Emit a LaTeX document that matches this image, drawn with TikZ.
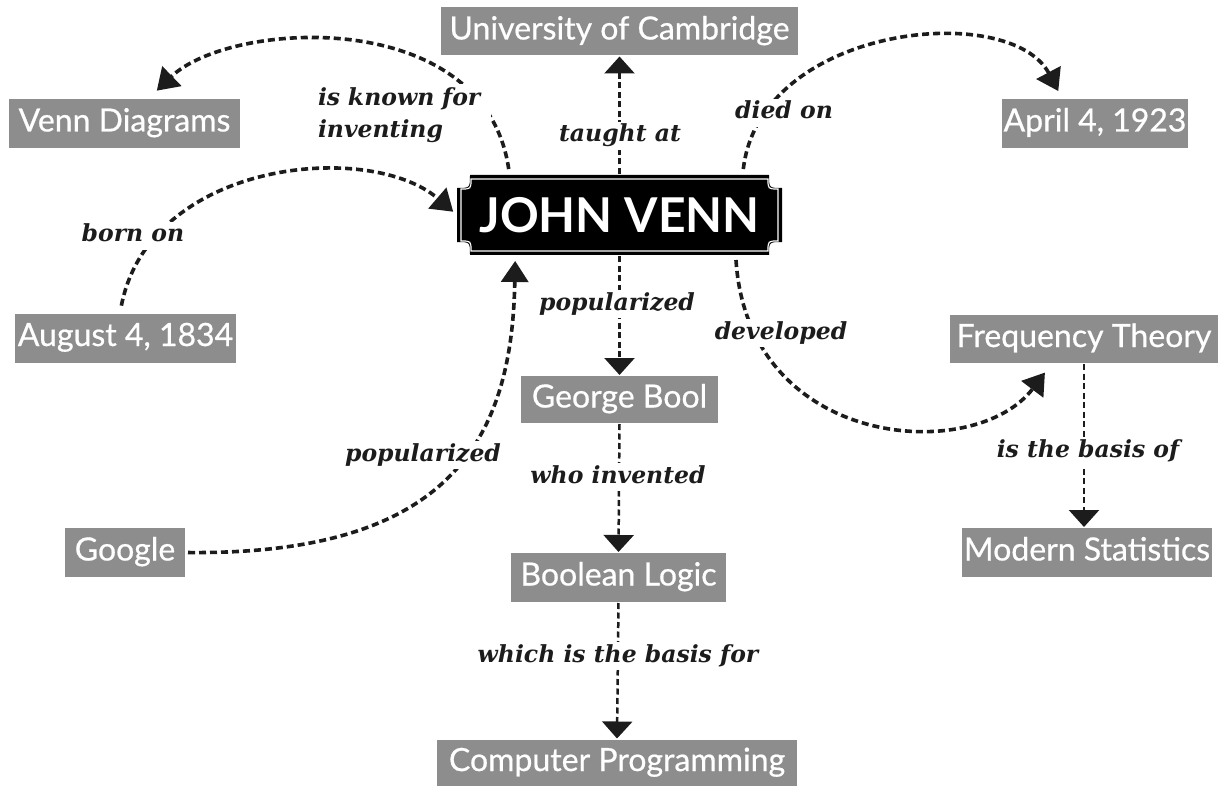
\documentclass[tikz,border=0pt]{standalone}
\usepackage{fontspec}
\usetikzlibrary{arrows.meta,calc,backgrounds}
\newfontface\boxfont{Lato}[FakeBold=0.6]
\newfontface\jvfont{Lato Bold}
\newfontfamily\labfont{DejaVu Serif}
\definecolor{boxgray}{RGB}{141,141,141}
\definecolor{ink}{RGB}{28,28,28}
\newcommand{\jvshape}[2]{%
 ($(jv.north west)+(#1+#2,#1)$) -- ($(jv.north east)+(-#1-#2,#1)$)
 .. controls ($(jv.north east)+(-#1-#2,#1+#2)$) .. ($(jv.north east)+(-#1,#1+#2)$)
 -- ($(jv.south east)+(-#1,-#1-#2)$)
 .. controls ($(jv.south east)+(-#1-#2,-#1-#2)$) .. ($(jv.south east)+(-#1-#2,-#1)$)
 -- ($(jv.south west)+(#1+#2,-#1)$)
 .. controls ($(jv.south west)+(#1+#2,-#1-#2)$) .. ($(jv.south west)+(#1,-#1-#2)$)
 -- ($(jv.north west)+(#1,#1+#2)$)
 .. controls ($(jv.north west)+(#1+#2,#1+#2)$) .. ($(jv.north west)+(#1+#2,#1)$) -- cycle}
\begin{document}
\begin{tikzpicture}[x=1pt,y=-1pt,
  gbox/.style={fill=boxgray,text=white,font=\boxfont\fontsize{32}{36}\selectfont,
    inner sep=0pt,outer sep=0pt,minimum height=48pt,text height=23pt,text depth=7pt},
  lab/.style={fill=white,text=ink,font=\labfont\bfseries\itshape\fontsize{23.5}{32}\selectfont,
    inner sep=3pt,text height=17pt,text depth=5pt},
  curve/.style={draw=ink,line width=3.6pt,dash pattern=on 7pt off 4pt,
    -{Triangle[length=21pt,width=27pt]}},
  vline/.style={draw=ink,line width=2.5pt,dash pattern=on 6pt off 3.5pt,
    -{Triangle[length=17pt,width=30pt]}}]
\useasboundingbox (0,0) rectangle (1225,786);

% boxes
\node[gbox,minimum width=357pt] (uni) at (619.5,31.5) {University of Cambridge};
\node[gbox,minimum width=231pt,minimum height=49pt] (venn) at (124.5,123.5) {Venn Diagrams};
\node[gbox,minimum width=186pt,minimum height=49pt] (apr) at (1095,123.5) {April 4, 1923};
\node[gbox,minimum width=221pt,minimum height=49pt] (aug) at (125.5,338) {August 4, 1834};
\node[gbox,minimum width=268pt] (freq) at (1084,339) {Frequency Theory};
\node[gbox,minimum width=197pt,minimum height=47pt] (geo) at (619.5,399.5) {George Bool};
\node[gbox,minimum width=120pt,minimum height=49pt] (goo) at (125,552.5) {Google};
\node[gbox,minimum width=215pt,minimum height=49pt] (bool) at (618.5,577.5) {Boolean Logic};
\node[gbox,minimum width=360pt,minimum height=47pt] (cp) at (617,763) {Computer Programming};
\node[gbox,minimum width=250pt,minimum height=49pt] (mod) at (1087,552.5) {Modern Statistics};
\node[minimum width=325pt,minimum height=80pt,inner sep=0pt,outer sep=0pt,text=white,
  font=\jvfont\fontsize{48}{52}\selectfont] (jv) at (619.5,215) {JOHN VENN};

% labels
\node[lab,align=left,text width=170pt,text height=,text depth=] (l1) at (403,115) {is known for\\inventing};
\node[lab] (l2) at (620,136) {taught at};
\node[lab] (l3) at (784,113) {died on};
\node[lab] (l4) at (133,236) {born on};
\node[lab] (l5) at (617,304) {popularized};
\node[lab] (l6) at (781,333) {developed};
\node[lab] (l7) at (423,455) {popularized};
\node[lab] (l8) at (618,477) {who invented};
\node[lab] (l9) at (1088,451) {is the basis of};
\node[lab] (l10) at (618,656) {which is the basis for};

\begin{pgfonlayer}{background}
\fill[white] (0,0) rectangle (1225,786);
\draw[curve,shorten <=6pt,shorten >=12pt] (jv.160) .. controls (485,5) and (230,20) .. (venn.46);
\draw[vline,shorten <=1pt,shorten >=1pt] (jv.north) -- (jv.north |- uni.south);
\draw[curve,shorten <=6pt,shorten >=9pt] (jv.18) .. controls (760,25) and (1010,0) .. (apr.143);
\draw[curve,shorten <=8pt,shorten >=5pt] (aug.103) .. controls (150,160) and (370,140) .. (jv.west);
\draw[vline,shorten <=1pt,shorten >=1pt] (jv.south) -- (geo.north);
\draw[curve,shorten <=5pt,shorten >=12pt] (jv.-19) .. controls (748,450) and (975,465) .. (freq.217);
\draw[curve,shorten <=3pt,shorten >=6pt] (goo.east) .. controls (450,555) and (512,440) .. (jv.201);
\draw[vline,shorten <=1pt,shorten >=1pt] (geo.south) -- (bool.north);
\draw[vline,shorten <=1pt,shorten >=1pt] (bool.south) -- (cp.north);
\draw[vline,shorten <=1pt,shorten >=1pt] (freq.south) -- (freq.south |- mod.north);
% John Venn plaque
\fill[black] \jvshape{0}{13};
\draw[white,line width=1.2pt] \jvshape{4}{10};
\end{pgfonlayer}
\end{tikzpicture}
\end{document}
